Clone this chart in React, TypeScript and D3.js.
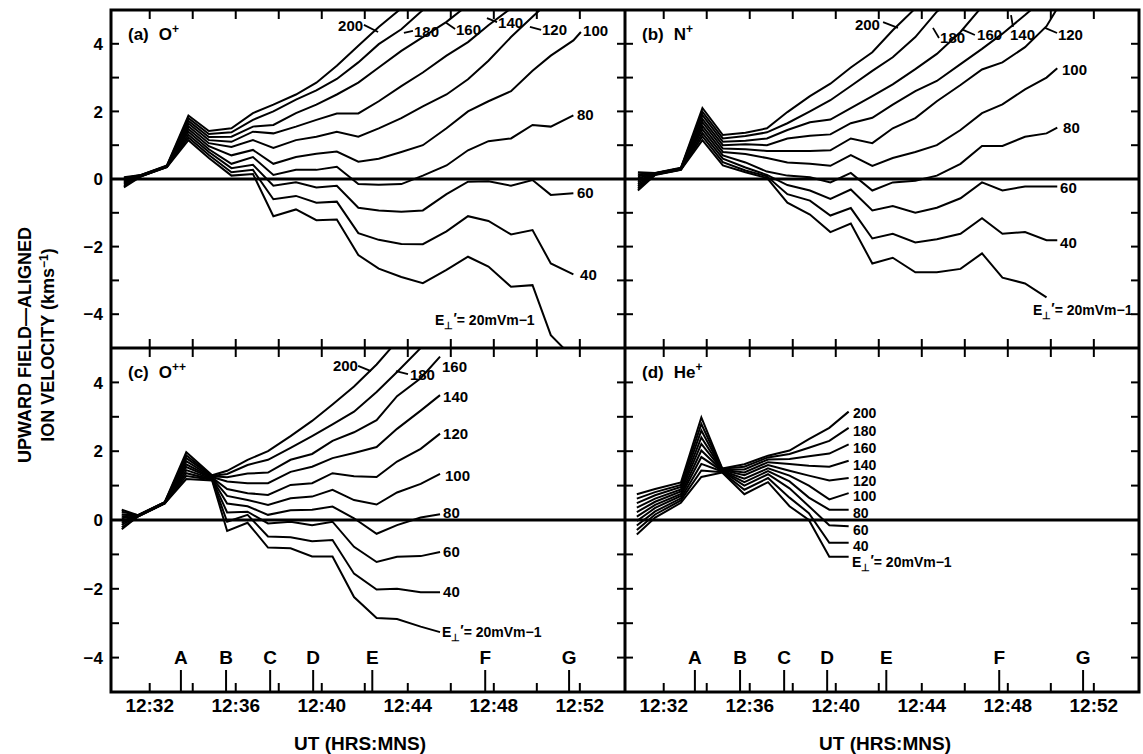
import React from "react";
import * as d3 from "d3";

const WIDTH = 1143;
const HEIGHT = 754;
const FONT = "'Liberation Sans', Arial, Helvetica, sans-serif";

// perpendicular field strength of each model curve (mV/m)
const E_FIELDS = [20, 40, 60, 80, 100, 120, 140, 160, 180, 200];

// sample times, minutes after 12:00 UT
const TIME_A = [30.8, 31.6, 32.8, 33.8, 34.75, 35.8, 36.8, 37.75, 38.8, 39.75, 40.7, 41.7, 42.65, 43.7, 44.7, 45.8, 46.8, 47.75, 48.8, 49.8, 50.65, 51.7, 52.05];
const TIME_B = [30.8, 31.6, 32.8, 33.8, 34.75, 35.8, 36.8, 37.75, 38.8, 39.75, 40.7, 41.7, 42.65, 43.7, 44.7, 45.8, 46.8, 47.75, 48.8, 49.8, 50.3];
const TIME_C = [30.7, 31.45, 32.7, 33.7, 34.9, 35.6, 36.55, 37.5, 38.55, 39.55, 40.5, 41.5, 42.55, 43.5, 44.6, 45.5];
const TIME_D = [30.75, 31.6, 32.8, 33.75, 34.72, 35.75, 36.85, 37.85, 38.75, 39.7, 40.6];

// upward field-aligned velocity (km/s), one row per E_FIELDS entry
const O_PLUS = [
  [-0.25, 0.08, 0.35, 1.15, 0.62, 0.1, 0.15, -1.1, -0.9, -1.22, -1.2, -2.25, -2.65, -2.9, -3.08, -2.69, -2.3, -2.59, -3.19, -3.14, -4.62, -5.3],
  [-0.2, 0.08, 0.36, 1.23, 0.71, 0.2, 0.27, -0.6, -0.5, -0.7, -0.67, -1.6, -1.8, -1.92, -1.93, -1.55, -1.1, -1.24, -1.64, -1.51, -2.5, -2.82],
  [-0.16, 0.09, 0.36, 1.31, 0.8, 0.32, 0.42, -0.2, -0.1, -0.25, -0.2, -0.85, -0.93, -0.97, -0.93, -0.45, -0.08, -0.07, -0.2, -0.03, -0.47, -0.42],
  [-0.12, 0.09, 0.37, 1.4, 0.88, 0.45, 0.65, 0.12, 0.27, 0.27, 0.36, -0.15, -0.17, -0.15, 0.1, 0.4, 0.85, 1.12, 1.2, 1.6, 1.55, 1.88],
  [-0.09, 0.1, 0.37, 1.48, 0.97, 0.7, 0.86, 0.45, 0.65, 0.75, 0.81, 0.51, 0.6, 0.8, 1.0, 1.5, 2.0, 2.3, 2.6, 3.2, 3.65, 4.1, 4.35],
  [-0.06, 0.1, 0.38, 1.56, 1.06, 0.95, 1.15, 0.92, 1.15, 1.25, 1.4, 1.25, 1.5, 1.8, 2.15, 2.5, 2.95, 3.5, 4.2, 4.8, 5.3],
  [-0.03, 0.1, 0.38, 1.64, 1.15, 1.1, 1.4, 1.35, 1.55, 1.75, 1.94, 1.94, 2.3, 2.75, 3.15, 3.65, 4.05, 4.55, 5.05, 5.5],
  [0.0, 0.11, 0.39, 1.72, 1.24, 1.25, 1.55, 1.6, 1.95, 2.2, 2.5, 2.85, 3.3, 3.79, 4.2, 4.65, 5.15],
  [0.02, 0.12, 0.39, 1.8, 1.33, 1.38, 1.75, 2.0, 2.35, 2.62, 2.96, 3.45, 3.99, 4.43, 5.0, 5.5],
  [0.05, 0.12, 0.4, 1.88, 1.42, 1.5, 1.95, 2.2, 2.5, 2.85, 3.35, 3.94, 4.5, 5.05, 5.6],
];

const N_PLUS = [
  [-0.34, 0.12, 0.27, 1.15, 0.4, 0.2, 0.03, -0.7, -1.05, -1.57, -1.32, -2.5, -2.33, -2.76, -2.76, -2.66, -2.2, -2.92, -3.09, -3.5],
  [-0.28, 0.13, 0.28, 1.26, 0.5, 0.25, 0.08, -0.45, -0.64, -1.08, -0.86, -1.76, -1.62, -1.88, -1.78, -1.62, -1.16, -1.62, -1.57, -1.81, -1.81],
  [-0.22, 0.13, 0.28, 1.36, 0.6, 0.34, 0.12, -0.18, -0.34, -0.59, -0.31, -0.93, -0.8, -1.0, -0.85, -0.57, -0.1, -0.34, -0.22, -0.22, -0.22],
  [-0.16, 0.14, 0.29, 1.47, 0.7, 0.49, 0.22, 0.1, 0.05, -0.1, 0.18, -0.34, -0.1, -0.05, 0.1, 0.45, 0.98, 0.98, 1.25, 1.35, 1.52],
  [-0.1, 0.15, 0.3, 1.57, 0.8, 0.74, 0.62, 0.49, 0.45, 0.39, 0.71, 0.39, 0.62, 0.8, 1.0, 1.45, 1.95, 2.21, 2.65, 3.0, 3.28],
  [-0.04, 0.15, 0.31, 1.68, 0.9, 0.88, 0.83, 0.83, 0.83, 0.85, 1.2, 1.06, 1.5, 1.8, 2.3, 2.78, 3.24, 3.45, 3.9, 4.52, 5.05],
  [0.02, 0.16, 0.31, 1.78, 1.0, 1.03, 1.0, 1.2, 1.28, 1.32, 1.65, 1.81, 2.2, 2.6, 2.9, 3.4, 3.85, 4.3, 4.85, 5.4],
  [0.08, 0.17, 0.32, 1.89, 1.1, 1.13, 1.2, 1.45, 1.68, 1.76, 2.1, 2.45, 2.8, 3.25, 3.7, 4.35, 5.1],
  [0.14, 0.17, 0.32, 1.99, 1.2, 1.27, 1.38, 1.65, 2.0, 2.33, 2.75, 3.2, 3.6, 4.2, 4.95, 5.5],
  [0.2, 0.18, 0.33, 2.1, 1.3, 1.37, 1.5, 1.98, 2.45, 2.82, 3.3, 3.75, 4.4, 5.05, 5.6],
];

const O_PLUSPLUS = [
  [-0.27, 0.1, 0.48, 1.19, 1.15, -0.32, -0.08, -0.8, -0.82, -1.06, -1.06, -2.24, -2.85, -2.88, -3.1, -3.26],
  [-0.21, 0.1, 0.48, 1.28, 1.17, -0.05, 0.15, -0.48, -0.5, -0.62, -0.58, -1.56, -2.02, -2.0, -2.1, -2.1],
  [-0.14, 0.11, 0.49, 1.36, 1.18, 0.22, 0.24, -0.1, -0.05, -0.15, -0.05, -0.78, -1.22, -1.07, -1.05, -0.93],
  [-0.08, 0.11, 0.49, 1.45, 1.2, 0.48, 0.4, 0.15, 0.28, 0.3, 0.39, 0.05, -0.4, -0.15, 0.07, 0.17],
  [-0.02, 0.12, 0.5, 1.54, 1.22, 0.7, 0.58, 0.44, 0.63, 0.68, 0.88, 0.58, 0.45, 0.8, 1.05, 1.34],
  [0.05, 0.12, 0.5, 1.62, 1.23, 0.9, 0.78, 0.73, 1.02, 1.07, 1.36, 1.27, 1.25, 1.7, 2.07, 2.51],
  [0.11, 0.13, 0.51, 1.71, 1.25, 1.12, 1.07, 1.07, 1.4, 1.55, 1.8, 1.95, 2.12, 2.65, 3.18, 3.63],
  [0.17, 0.13, 0.51, 1.8, 1.27, 1.24, 1.35, 1.38, 1.75, 1.92, 2.3, 2.55, 2.9, 3.6, 4.12, 4.75],
  [0.24, 0.14, 0.52, 1.88, 1.28, 1.34, 1.6, 1.75, 2.1, 2.44, 2.78, 3.15, 3.72, 4.3, 5.0, 5.6],
  [0.3, 0.14, 0.52, 1.97, 1.3, 1.43, 1.75, 2.0, 2.44, 2.88, 3.36, 3.88, 4.52, 5.2],
];

const HE_PLUS = [
  [-0.42, 0.07, 0.5, 1.25, 1.38, 0.75, 1.1, 0.4, 0.0, -1.07, -1.07],
  [-0.29, 0.16, 0.57, 1.44, 1.39, 0.88, 1.22, 0.65, 0.2, -0.66, -0.66],
  [-0.16, 0.25, 0.63, 1.63, 1.41, 1.0, 1.33, 0.92, 0.4, -0.15, -0.18],
  [-0.03, 0.35, 0.7, 1.83, 1.42, 1.1, 1.42, 1.12, 0.65, 0.3, 0.3],
  [0.1, 0.44, 0.76, 2.02, 1.43, 1.2, 1.5, 1.29, 1.0, 0.6, 0.78],
  [0.23, 0.53, 0.83, 2.21, 1.45, 1.3, 1.6, 1.43, 1.29, 1.15, 1.22],
  [0.36, 0.62, 0.89, 2.4, 1.46, 1.38, 1.68, 1.63, 1.58, 1.55, 1.72],
  [0.49, 0.72, 0.96, 2.6, 1.47, 1.47, 1.76, 1.77, 1.85, 1.93, 2.2],
  [0.62, 0.81, 1.02, 2.79, 1.49, 1.55, 1.82, 1.92, 2.1, 2.3, 2.68],
  [0.75, 0.9, 1.09, 2.98, 1.5, 1.62, 1.87, 2.02, 2.35, 2.68, 3.15],
];

const Y_TICKS = [-4, -3, -2, -1, 0, 1, 2, 3, 4];
const Y_LABELS = [-4, -2, 0, 2, 4];
const X_TICKS = [32, 34, 36, 38, 40, 42, 44, 46, 48, 50, 52];
const X_LABELS = [32, 36, 40, 44, 48, 52];
const MARKERS = ["A", "B", "C", "D", "E", "F", "G"];
const MARKER_TIMES = [33.45, 35.55, 37.6, 39.6, 42.35, 47.6, 51.5];

// curve annotations in data units (time, velocity at baseline); lead = leader line
type Label = { text: string; t: number; v: number; lead?: number[] };

const LABELS_A: Label[] = [
  { text: "200", t: 40.76, v: 4.38, lead: [41.96, 4.56, 42.62, 4.35] },
  { text: "180", t: 44.29, v: 4.2, lead: [44.24, 4.38, 43.82, 4.32] },
  { text: "160", t: 46.24, v: 4.26, lead: [46.2, 4.44, 45.78, 4.62] },
  { text: "140", t: 48.2, v: 4.47, lead: [48.15, 4.64, 47.68, 4.76] },
  { text: "120", t: 50.24, v: 4.26, lead: [50.2, 4.41, 49.68, 4.5] },
  { text: "100", t: 52.15, v: 4.23 },
  { text: "80", t: 51.87, v: 1.75 },
  { text: "60", t: 51.87, v: -0.56 },
  { text: "40", t: 52.01, v: -2.99 },
  { text: "E", t: 45.27, v: -4.32 },
];
const LABELS_B: Label[] = [
  { text: "200", t: 40.89, v: 4.41, lead: [42.2, 4.64, 42.89, 4.47] },
  { text: "180", t: 44.85, v: 4.02, lead: [44.8, 4.17, 44.52, 4.47] },
  { text: "160", t: 46.57, v: 4.11, lead: [46.47, 4.26, 45.92, 4.41] },
  { text: "140", t: 48.1, v: 4.11, lead: [48.24, 4.5, 48.15, 4.85] },
  { text: "120", t: 50.33, v: 4.11, lead: [50.29, 4.32, 49.73, 4.47] },
  { text: "100", t: 50.52, v: 3.08 },
  { text: "80", t: 50.57, v: 1.36 },
  { text: "60", t: 50.43, v: -0.41 },
  { text: "40", t: 50.43, v: -2.04 },
  { text: "E", t: 49.17, v: -4.02 },
];
const LABELS_C: Label[] = [
  { text: "200", t: 40.52, v: 4.33, lead: [41.69, 4.48, 42.29, 4.33] },
  { text: "180", t: 44.1, v: 4.07, lead: [44.01, 4.24, 43.45, 4.33] },
  { text: "160", t: 45.59, v: 4.3 },
  { text: "140", t: 45.64, v: 3.43 },
  { text: "120", t: 45.64, v: 2.35 },
  { text: "100", t: 45.73, v: 1.13 },
  { text: "80", t: 45.64, v: 0.06 },
  { text: "60", t: 45.64, v: -1.08 },
  { text: "40", t: 45.64, v: -2.24 },
  { text: "E", t: 45.59, v: -3.4 },
];
const LABELS_D: Label[] = [
  { text: "200", t: 40.8, v: 2.97 },
  { text: "180", t: 40.8, v: 2.44 },
  { text: "160", t: 40.8, v: 1.95 },
  { text: "140", t: 40.8, v: 1.45 },
  { text: "120", t: 40.8, v: 0.99 },
  { text: "100", t: 40.8, v: 0.55 },
  { text: "80", t: 40.8, v: 0.06 },
  { text: "60", t: 40.8, v: -0.44 },
  { text: "40", t: 40.8, v: -0.9 },
  { text: "E", t: 40.76, v: -1.37 },
];

const FRAME = { left: 111, mid: 625, right: 1139, top: 10, hmid: 348, bottom: 692 };
const T_DOMAIN: [number, number] = [30.2, 54.1];

const PANELS = [
  { id: "a", tag: "(a)", ion: "O", charge: "+", times: TIME_A, series: O_PLUS, col: 0, row: 0, labels: LABELS_A, labelSize: 15 },
  { id: "b", tag: "(b)", ion: "N", charge: "+", times: TIME_B, series: N_PLUS, col: 1, row: 0, labels: LABELS_B, labelSize: 15 },
  { id: "c", tag: "(c)", ion: "O", charge: "++", times: TIME_C, series: O_PLUSPLUS, col: 0, row: 1, labels: LABELS_C, labelSize: 15 },
  { id: "d", tag: "(d)", ion: "He", charge: "+", times: TIME_D, series: HE_PLUS, col: 1, row: 1, labels: LABELS_D, labelSize: 14 },
];

const fmtTime = (m: number) => `12:${String(m).padStart(2, "0")}`;
const fmtVal = (v: number) => (v < 0 ? `\u2212${-v}` : `${v}`);

function Panel({ cfg }: { cfg: (typeof PANELS)[number] }) {
  const x0 = cfg.col === 0 ? FRAME.left : FRAME.mid;
  const x1 = cfg.col === 0 ? FRAME.mid : FRAME.right;
  const y0 = cfg.row === 0 ? FRAME.top : FRAME.hmid;
  const y1 = cfg.row === 0 ? FRAME.hmid : FRAME.bottom;

  const x = d3.scaleLinear().domain(T_DOMAIN).range([x0, x1]);
  const y = d3.scaleLinear().domain([-5, 5]).range([y1, y0]);

  const line = d3
    .line<number>()
    .x((_, i) => x(cfg.times[i]))
    .y((d) => y(d));

  const clipId = `clip-${cfg.id}`;
  const bottomRow = cfg.row === 1;

  return (
    <g>
      <defs>
        <clipPath id={clipId}>
          <rect x={x0 + 1} y={y0 + 1} width={x1 - x0 - 2} height={y1 - y0 - 2} />
        </clipPath>
      </defs>

      {/* model curves */}
      <g clipPath={`url(#${clipId})`}>
        {cfg.series.map((vals, k) => (
          <path
            key={E_FIELDS[k]}
            d={line(vals) || ""}
            fill="none"
            stroke="#000"
            strokeWidth={2}
            strokeLinejoin="miter"
            strokeMiterlimit={3}
          />
        ))}
      </g>

      {/* zero line */}
      <line x1={x0} x2={x1} y1={y(0)} y2={y(0)} stroke="#000" strokeWidth={3} />

      {/* y ticks on both sides, pointing inward */}
      {Y_TICKS.map((v) => (
        <g key={`yt${v}`} stroke="#000" strokeWidth={2}>
          <line x1={x0} x2={x0 + 8} y1={y(v)} y2={y(v)} />
          <line x1={x1 - 8} x2={x1} y1={y(v)} y2={y(v)} />
        </g>
      ))}

      {/* x ticks on top and bottom, pointing inward */}
      {X_TICKS.map((t) => (
        <g key={`xt${t}`} stroke="#000" strokeWidth={2}>
          <line x1={x(t)} x2={x(t)} y1={y0} y2={y0 + 9} />
          <line x1={x(t)} x2={x(t)} y1={y1 - 9} y2={y1} />
        </g>
      ))}

      {/* event markers */}
      {bottomRow &&
        MARKERS.map((m, i) => (
          <g key={m}>
            <line
              x1={x(MARKER_TIMES[i])}
              x2={x(MARKER_TIMES[i])}
              y1={y1 - 22}
              y2={y1}
              stroke="#000"
              strokeWidth={2}
            />
            <text
              x={x(MARKER_TIMES[i])}
              y={y1 - 28}
              textAnchor="middle"
              fontSize={19}
              fontWeight="bold"
            >
              {m}
            </text>
          </g>
        ))}

      {/* time labels */}
      {bottomRow &&
        X_LABELS.map((t) => (
          <text key={`xl${t}`} x={x(t)} y={y1 + 20} textAnchor="middle" fontSize={19} fontWeight="bold">
            {fmtTime(t)}
          </text>
        ))}
      {bottomRow && (
        <text
          x={(x0 + x1) / 2 + (cfg.col === 0 ? -8 : 3)}
          y={y1 + 58}
          textAnchor="middle"
          fontSize={19}
          fontWeight="bold"
        >
          UT (HRS:MNS)
        </text>
      )}

      {/* velocity labels */}
      {cfg.col === 0 &&
        Y_LABELS.map((v) => (
          <text key={`yl${v}`} x={x0 - 8} y={y(v)} dy="0.36em" textAnchor="end" fontSize={17} fontWeight="bold">
            {fmtVal(v)}
          </text>
        ))}

      {/* panel tag */}
      <text x={x0 + 17} y={y0 + 30} fontSize={17} fontWeight="bold">
        {cfg.tag}
        <tspan dx={10}>{cfg.ion}</tspan>
        <tspan dy={-7} fontSize={12}>
          {cfg.charge}
        </tspan>
      </text>

      {/* curve labels */}
      {cfg.labels.map((lb) => (
        <g key={`lb${lb.text}`}>
          {lb.lead && (
            <line
              x1={x(lb.lead[0])}
              y1={y(lb.lead[1])}
              x2={x(lb.lead[2])}
              y2={y(lb.lead[3])}
              stroke="#000"
              strokeWidth={1.8}
            />
          )}
          {lb.text === "E" ? (
            <text x={x(lb.t)} y={y(lb.v)} fontSize={14} fontWeight="bold">
              E
              <tspan dy={4} fontSize={10}>
                {"\u22A5"}
              </tspan>
              <tspan dy={-6}>{"\u2032"}</tspan>
              <tspan dy={2}>{"= 20mVm\u22121"}</tspan>
            </text>
          ) : (
            <text x={x(lb.t)} y={y(lb.v)} fontSize={cfg.labelSize} fontWeight="bold">
              {lb.text}
            </text>
          )}
        </g>
      ))}
    </g>
  );
}

export default function App() {
  const titleY = 345;
  return (
    <svg
      width={WIDTH}
      height={HEIGHT}
      viewBox={`0 0 ${WIDTH} ${HEIGHT}`}
      style={{ position: "absolute", left: 0, top: 0, background: "#fff" }}
      fontFamily={FONT}
    >
      <rect width={WIDTH} height={HEIGHT} fill="#fff" />
      {PANELS.map((p) => (
        <Panel key={p.id} cfg={p} />
      ))}

      {/* frame */}
      <g stroke="#000" strokeWidth={3} fill="none">
        <rect x={FRAME.left} y={FRAME.top} width={FRAME.right - FRAME.left} height={FRAME.bottom - FRAME.top} />
        <line x1={FRAME.mid} x2={FRAME.mid} y1={FRAME.top} y2={FRAME.bottom} />
        <line x1={FRAME.left} x2={FRAME.right} y1={FRAME.hmid} y2={FRAME.hmid} />
      </g>

      {/* y axis title */}
      <text transform={`translate(31, ${titleY}) rotate(-90)`} textAnchor="middle" fontSize={18} fontWeight="bold">
        UPWARD FIELD{"\u2014"}ALIGNED
      </text>
      <text transform={`translate(54, ${titleY}) rotate(-90)`} textAnchor="middle" fontSize={18} fontWeight="bold">
        ION VELOCITY (kms
        <tspan dy={-6} fontSize={12}>
          {"\u22121"}
        </tspan>
        <tspan dy={6}>)</tspan>
      </text>
    </svg>
  );
}
